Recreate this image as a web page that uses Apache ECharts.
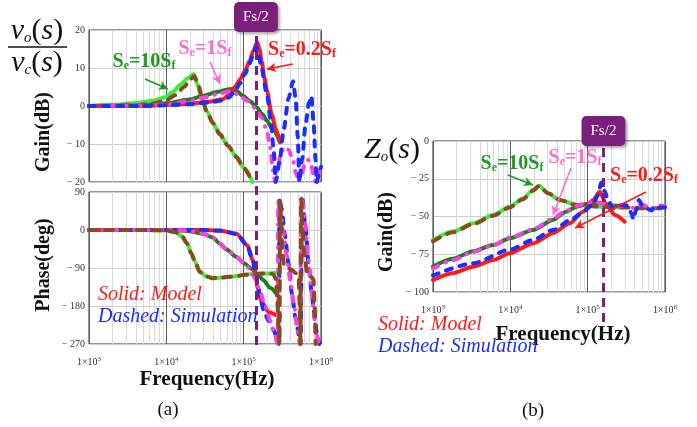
<!DOCTYPE html>
<html>
<head>
<meta charset="utf-8">
<script src="https://cdn.jsdelivr.net/npm/echarts@6/dist/echarts.min.js"></script>
<style>
  html, body { margin: 0; padding: 0; background: #fff; }
  #chart { width: 697px; height: 427px; }
</style>
</head>
<body>
<div id="chart"></div>
<script>
// ---- data: [frequency (Hz), value] ----
const gainModel10 = [[1e3,0],[2e3,0.3],[4e3,0.8],[6.5e3,1.3],[9.6e3,2.3],[1.2e4,3.6],[1.5e4,5.5],[1.9e4,7.3],[2.25e4,8.4],[2.5e4,6],[2.8e4,2.7],[3.3e4,-1.2],[4e4,-4.5],[4.9e4,-7.4],[6.3e4,-10.5],[8.1e4,-13.4],[1e5,-16.3],[1.3e5,-20]];
const gainSim10 = [[1e3,0],[2e3,0],[4e3,0.2],[6.5e3,0.6],[9.6e3,1.3],[1.3e4,2.8],[1.7e4,5],[2e4,6.8],[2.3e4,7.9],[2.6e4,5.5],[2.9e4,2],[3.3e4,-1.2],[4e4,-4.5],[4.9e4,-7.4],[6.3e4,-10.5],[8.1e4,-13.4],[1e5,-16.3],[1.3e5,-20]];
const gainModel1 = [[1e3,0],[3e3,0.1],[6e3,0.3],[1e4,0.7],[2e4,1.7],[3e4,2.7],[4.5e4,3.7],[6.7e4,4.5],[8e4,4],[9.8e4,2.7],[1.2e5,1.3],[1.47e5,-0.3],[1.75e5,-2.2],[2e5,-3.9],[2.4e5,-6.3],[2.95e5,-9.5]];
const gainSim1 = [[1e3,0],[5e3,0.1],[1e4,0.4],[2e4,1.3],[3e4,2.2],[4.5e4,3.1],[6.5e4,3.8],[7.5e4,3.5],[9e4,2.6],[1.1e5,1.4],[1.4e5,-0.5],[1.7e5,-3],[2e5,-6.5],[2.2e5,-11],[2.4e5,-17],[2.55e5,-20],[2.75e5,-16],[3.05e5,-12],[3.4e5,-10.8],[3.8e5,-11.5],[4.3e5,-14],[4.8e5,-18],[5.1e5,-20],[5.6e5,-18],[6.2e5,-15],[6.8e5,-14.2],[7.4e5,-15],[8e5,-18],[8.5e5,-20],[9.2e5,-18],[1e6,-15.5]];
const gainModel02 = [[1e3,0],[5e3,0],[1e4,0.3],[2e4,0.6],[3.5e4,1.1],[5.4e4,1.8],[6.5e4,3],[7.7e4,5],[9e4,7],[1.04e5,9.2],[1.2e5,12],[1.33e5,14.5],[1.5e5,16.8],[1.6e5,15],[1.71e5,11.8],[1.85e5,7.5],[2e5,4],[2.3e5,-2.1],[2.6e5,-6],[2.95e5,-9.5]];
const gainSim02 = [[1e3,0],[5e3,0],[1e4,0.2],[2e4,0.5],[3.5e4,0.9],[5.4e4,1.5],[6.5e4,2.3],[7.7e4,4],[9e4,6],[1.04e5,8.4],[1.2e5,11.3],[1.35e5,14],[1.45e5,15.6],[1.55e5,14],[1.7e5,10],[2e5,3],[2.25e5,-4],[2.45e5,-12],[2.6e5,-20],[2.9e5,-15],[3.3e5,-6],[3.8e5,2],[4.35e5,6.5],[4.7e5,2],[5e5,-8],[5.25e5,-20],[5.7e5,-14],[6.3e5,-5],[7e5,1],[7.5e5,2.6],[8e5,-4],[8.5e5,-14],[8.8e5,-20],[9.4e5,-18],[1e6,-16]];

const phaseModel10 = [[1e3,0],[5e3,0],[1e4,-1],[1.3e4,-5],[1.6e4,-15],[1.85e4,-32],[2.1e4,-55],[2.35e4,-75],[2.7e4,-99],[3.3e4,-110],[4e4,-114],[5e4,-113],[6.5e4,-111],[8e4,-109],[1.05e5,-106],[1.35e5,-104],[1.8e5,-103],[2.9e5,-101]];
const phaseSim10 = [[1e3,0],[5e3,0],[1e4,-1],[1.3e4,-5],[1.6e4,-15],[1.85e4,-32],[2.1e4,-55],[2.35e4,-75],[2.7e4,-99],[3.3e4,-110],[4e4,-114],[5e4,-113],[6.5e4,-111],[8e4,-109],[1.05e5,-106],[1.35e5,-104],[1.8e5,-103],[2.4e5,-104],[2.6e5,-115],[2.72e5,-160],[2.83e5,-230],[2.9e5,-270],[2.95e5,70],[3.05e5,25],[3.15e5,-40],[3.3e5,-80],[3.6e5,-90],[4.1e5,-93],[4.7e5,-102],[5.15e5,-112],[5.3e5,-180],[5.4e5,-270],[5.55e5,72],[5.75e5,10],[6.1e5,-60],[6.6e5,-100],[7.3e5,-108],[8e5,-118],[8.3e5,-180],[8.5e5,-270]];
const phaseModel1 = [[1e3,0],[1e4,0],[1.5e4,-1],[2e4,-3],[3e4,-9],[4e4,-18],[4.9e4,-32],[6e4,-46],[8.1e4,-64],[1e5,-78],[1.27e5,-92],[1.5e5,-104],[1.81e5,-119],[2.2e5,-137],[2.8e5,-157]];
const phaseSim1 = [[1e3,0],[1e4,0],[1.5e4,0],[2e4,-2],[3e4,-9],[4e4,-18],[4.9e4,-32],[6e4,-46],[8.1e4,-64],[1e5,-77],[1.21e5,-92],[1.4e5,-115],[1.6e5,-142],[1.9e5,-181],[2.2e5,-215],[2.5e5,-245],[2.75e5,-270],[2.8e5,70],[3e5,40],[3.3e5,-10],[3.6e5,-60],[4e5,-120],[4.5e5,-180],[4.9e5,-230],[5.35e5,-270],[5.6e5,80],[6.2e5,20],[6.8e5,-60],[7.4e5,-130],[8e5,-190],[8.6e5,-240],[9.3e5,-270]];
const phaseModel02 = [[1e3,0],[3e4,0],[4.9e4,-1],[8.1e4,-9],[1.11e5,-36],[1.31e5,-71],[1.44e5,-103],[1.5e5,-135],[1.71e5,-170],[2.09e5,-194],[2.7e5,-202],[2.95e5,-204]];
const phaseSim02 = [[1e3,0],[3e4,0],[5e4,-2],[8.1e4,-9],[1.11e5,-36],[1.31e5,-71],[1.44e5,-103],[1.52e5,-130],[1.65e5,-165],[1.85e5,-195],[2.1e5,-215],[2.4e5,-235],[2.7e5,-255],[2.85e5,-270],[2.9e5,75],[3.1e5,50],[3.4e5,-10],[3.8e5,-80],[4.2e5,-150],[4.7e5,-210],[5.2e5,-250],[5.45e5,-270],[5.7e5,80],[6.3e5,10],[6.9e5,-80],[7.6e5,-150],[8.3e5,-210],[9e5,-255],[9.5e5,-270]];

const zoModel10 = [[1e3,-65.6],[1.8e3,-60],[3.3e3,-54.5],[6e3,-49],[9.8e3,-43.5],[1.46e4,-38],[1.96e4,-32.5],[2.35e4,-29.6],[3.08e4,-34.6],[4.34e4,-39],[7.2e4,-42.4],[1.44e5,-43.5],[2.9e5,-44]];
const zoSim10 = [[1e3,-66.5],[1.8e3,-60.5],[3.3e3,-55],[6e3,-49.5],[9.8e3,-44],[1.46e4,-38.5],[1.96e4,-33],[2.35e4,-29.8],[3.08e4,-34.6],[4.34e4,-39],[7.2e4,-42.4],[1.44e5,-43.5],[2.9e5,-44],[5e5,-44.5],[1e6,-44.6]];
const zoModel1 = [[1e3,-83.2],[1.8e3,-78],[3.3e3,-73],[6e3,-68.9],[9.8e3,-64.4],[1.96e4,-59],[3.55e4,-52.3],[5.28e4,-46.8],[7.2e4,-43.5],[9.6e4,-41.7],[1.44e5,-41],[2e5,-42.5],[2.87e5,-43.5]];
const zoSim1 = [[1e3,-84.5],[1.8e3,-79],[3.3e3,-73.5],[6e3,-69],[9.8e3,-64],[1.96e4,-58.5],[3.55e4,-51.5],[5.28e4,-46],[7.2e4,-43],[9.6e4,-41],[1.2e5,-40],[1.44e5,-41],[2e5,-42.5],[2.6e5,-43.5],[3.2e5,-42],[4e5,-44.5],[5e5,-42],[6e5,-43.5],[7e5,-45],[8e5,-42.5],[1e6,-43.5]];
const zoModel02 = [[1e3,-92],[1.8e3,-87.6],[3.3e3,-83.2],[6e3,-78.8],[9.8e3,-74.4],[1.96e4,-67.8],[3.55e4,-61.1],[5.87e4,-54.5],[8.7e4,-46.8],[1.17e5,-39],[1.44e5,-33.6],[1.75e5,-42.4],[2.25e5,-49],[3e5,-53.4]];
const zoSim02 = [[1e3,-89],[3.3e3,-81],[9.8e3,-72],[1.96e4,-65.6],[3.55e4,-58.9],[6.5e4,-51.2],[8.7e4,-46.8],[1.17e5,-42.4],[1.35e5,-36],[1.5e5,-27.5],[1.65e5,-33],[1.85e5,-40],[2.15e5,-44.6],[2.7e5,-42.5],[3.3e5,-43],[3.7e5,-48],[3.9e5,-52],[4.2e5,-46],[4.6e5,-39],[5.1e5,-43],[6e5,-45],[6.7e5,-46],[7.5e5,-43],[8.5e5,-44],[1e6,-44]];

// Fs/2 marker positions and minor grid multipliers
const fsHalfA = 1.44e5;
const fsHalfB = 1.6e5;
const decades = [1e3, 1e4, 1e5];
const minorMult = [2, 3, 4, 5, 6, 7, 8, 9];

const SERIF = '"Liberation Serif", "DejaVu Serif", serif';
const C = {
  red: '#ff1a1a', blue: '#1a2eff', lime: '#3cee3c', brown: '#8b4a1c',
  dkgreen: '#1e7d24', magenta: '#ff3ee0', purple: '#7b1f7d',
  txtGreen: '#1f9a22', txtPink: '#ff6ccf'
};
const DASH = [6, 8];
const DASH_BROWN = [8, 8];
const DASH_DOT = [6, 8, 0.5, 8];

const chart = echarts.init(document.getElementById('chart'));

const minorFreqs = [];
decades.forEach((d) => minorMult.forEach((m) => minorFreqs.push(d * m)));

const minus = (v) => (v < 0 ? '\u2212 ' + Math.abs(v) : String(v));
const expLabel = (v) => '1\u00d710{s|' + Math.round(Math.log10(v)) + '}';

function xAxisCfg(grid, showLabels) {
  return {
    type: 'log', logBase: 10, min: 1e3, max: 1e6, gridIndex: grid,
    axisLine: { show: false }, axisTick: { show: false },
    splitLine: { show: true, lineStyle: { color: '#5a5a5a', width: 1 } },
    axisLabel: {
      show: showLabels, formatter: expLabel, margin: 12,
      fontFamily: SERIF, fontSize: 10, color: '#333',
      rich: { s: { fontSize: 7, fontFamily: SERIF, verticalAlign: 'top', padding: [0, 0, 6, 0], color: '#333' } }
    }
  };
}
function yAxisCfg(grid, min, max, interval) {
  return {
    type: 'value', gridIndex: grid, min, max, interval,
    axisLine: { show: false }, axisTick: { show: false },
    splitLine: { show: true, lineStyle: { color: '#cfcfcf' } },
    axisLabel: { formatter: minus, margin: 4, fontFamily: SERIF, fontSize: 10, color: '#333' }
  };
}
// hidden axes for the Fs/2 overlays
function hiddenX(grid) {
  return { type: 'log', logBase: 10, min: 1e3, max: 1e6, gridIndex: grid, show: false, splitLine: { show: false } };
}
function hiddenY(grid) {
  return { type: 'value', min: 0, max: 1, gridIndex: grid, show: false, splitLine: { show: false } };
}

function minorGrid(idx, ymin, ymax) {
  return {
    type: 'custom', xAxisIndex: idx, yAxisIndex: idx, silent: true, z: 1,
    data: minorFreqs.map((f) => [f, ymin]),
    encode: { x: 0, y: 1 },
    renderItem: (params, api) => {
      const p1 = api.coord([api.value(0), ymin]);
      const p2 = api.coord([api.value(0), ymax]);
      const x = Math.round(p1[0]) + 0.5;
      return { type: 'line', shape: { x1: x, y1: p1[1], x2: x, y2: p2[1] }, style: { stroke: '#dadada', lineWidth: 1 } };
    }
  };
}

function curve(data, idx, color, dash, z) {
  return {
    type: 'line', xAxisIndex: idx, yAxisIndex: idx, data, symbol: 'none',
    smooth: 0.25, smoothMonotone: 'x', silent: true, z: z,
    lineStyle: { color, width: 4, type: dash || 'solid', cap: 'round', join: 'round' }
  };
}

function fsLine(idx, x) {
  return {
    type: 'line', xAxisIndex: idx, yAxisIndex: idx, data: [], silent: true, z: 10,
    markLine: {
      silent: true, symbol: ['none', 'none'], animation: false,
      lineStyle: { color: C.purple, width: 3, type: [9, 6] },
      label: {
        show: true, position: 'end', distance: 0, formatter: 'Fs/2',
        color: '#fff', fontFamily: SERIF, fontSize: 15,
        backgroundColor: C.purple, padding: [8, 9, 7, 9], borderRadius: 5,
        shadowColor: 'rgba(0,0,0,0.35)', shadowBlur: 3, shadowOffsetX: 2, shadowOffsetY: 2
      },
      data: [[{ coord: [x, 0] }, { coord: [x, 1] }]]
    }
  };
}

function arrows(idx, items) {
  return {
    type: 'line', xAxisIndex: idx, yAxisIndex: idx, data: [], silent: true, z: 11,
    markLine: {
      silent: true, symbol: ['none', 'arrow'], symbolSize: [7, 9], animation: false, label: { show: false },
      data: items.map((a) => [
        { coord: a.from, lineStyle: { color: a.color, width: 1.6, type: 'solid' } },
        { coord: a.to }
      ])
    }
  };
}

const option = {
  animation: false,
  backgroundColor: '#fff',
  grid: [
    { left: 89, top: 30, width: 232, height: 152, show: true, borderColor: '#333', borderWidth: 1 },
    { left: 89, top: 192, width: 232, height: 152, show: true, borderColor: '#333', borderWidth: 1 },
    { left: 433, top: 141, width: 232, height: 151, show: true, borderColor: '#333', borderWidth: 1 },
    { left: 89, top: 32, width: 232, height: 313, show: false },
    { left: 433, top: 146, width: 232, height: 176, show: false }
  ],
  xAxis: [xAxisCfg(0, false), xAxisCfg(1, true), xAxisCfg(2, true), hiddenX(3), hiddenX(4)],
  yAxis: [yAxisCfg(0, -20, 20, 10), yAxisCfg(1, -270, 90, 90), yAxisCfg(2, -100, 0, 25), hiddenY(3), hiddenY(4)],
  series: [
    minorGrid(0, -20, 20), minorGrid(1, -270, 90), minorGrid(2, -100, 0),

    curve(gainModel10, 0, C.lime, null, 3),
    curve(gainModel1, 0, C.dkgreen, null, 3),
    curve(gainModel02, 0, C.red, null, 3),
    curve(gainSim10, 0, C.brown, DASH_BROWN, 4),
    curve(gainSim1, 0, C.magenta, DASH_DOT, 4),
    curve(gainSim02, 0, C.blue, DASH, 4),

    curve(phaseModel10, 1, C.lime, null, 3),
    curve(phaseModel1, 1, C.dkgreen, null, 3),
    curve(phaseModel02, 1, C.red, null, 3),
    curve(phaseSim02, 1, C.blue, DASH, 4),
    curve(phaseSim1, 1, C.magenta, DASH_DOT, 4),
    curve(phaseSim10, 1, C.brown, DASH_BROWN, 5),

    curve(zoModel10, 2, C.lime, null, 3),
    curve(zoModel1, 2, C.dkgreen, null, 3),
    curve(zoModel02, 2, C.red, null, 3),
    curve(zoSim10, 2, C.brown, DASH_BROWN, 4),
    curve(zoSim1, 2, C.magenta, DASH_DOT, 4),
    curve(zoSim02, 2, C.blue, DASH, 4),

    fsLine(3, fsHalfA),
    fsLine(4, fsHalfB),

    arrows(0, [
      { from: [5.3e3, 7.1], to: [1.05e4, 4.5], color: C.txtGreen },
      { from: [3.67e4, 11.6], to: [4.94e4, 5.8], color: C.txtPink },
      { from: [4.34e5, 11.05], to: [2e5, 9.7], color: C.red }
    ]),
    arrows(2, [
      { from: [9.3e3, -22.5], to: [1.96e4, -29.1], color: C.txtGreen },
      { from: [6.1e4, -17.9], to: [3.56e4, -49], color: C.txtPink },
      { from: [5.68e5, -33.8], to: [6.86e4, -57.6], color: C.red }
    ])
  ],
  graphic: [
    // transfer function labels
    { type: 'text', x: 37, y: 31, style: { text: '{v|v}{o|o}{p|(}{v|s}{p|)}', align: 'center', verticalAlign: 'middle',
      rich: { v: { font: 'italic 30px ' + SERIF, fill: '#111' }, p: { font: '30px ' + SERIF, fill: '#111' }, o: { font: 'italic 15px ' + SERIF, verticalAlign: 'bottom', fill: '#111' } } } },
    { type: 'line', shape: { x1: 8, y1: 47, x2: 67, y2: 47 }, style: { stroke: '#111', lineWidth: 1.5 } },
    { type: 'text', x: 37, y: 63, style: { text: '{v|v}{o|c}{p|(}{v|s}{p|)}', align: 'center', verticalAlign: 'middle',
      rich: { v: { font: 'italic 30px ' + SERIF, fill: '#111' }, p: { font: '30px ' + SERIF, fill: '#111' }, o: { font: 'italic 15px ' + SERIF, verticalAlign: 'bottom', fill: '#111' } } } },
    { type: 'text', x: 392, y: 150, style: { text: '{v|Z}{o|o}{p|(}{v|s}{p|)}', align: 'center', verticalAlign: 'middle',
      rich: { v: { font: 'italic 30px ' + SERIF, fill: '#111' }, p: { font: '30px ' + SERIF, fill: '#111' }, o: { font: 'italic 15px ' + SERIF, verticalAlign: 'bottom', fill: '#111' } } } },

    // axis titles
    { type: 'text', x: 44, y: 132, rotation: Math.PI / 2, style: { text: 'Gain(dB)', font: 'bold 20px ' + SERIF, fill: '#111', align: 'center', verticalAlign: 'middle' } },
    { type: 'text', x: 44, y: 265, rotation: Math.PI / 2, style: { text: 'Phase(deg)', font: 'bold 20px ' + SERIF, fill: '#111', align: 'center', verticalAlign: 'middle' } },
    { type: 'text', x: 387, y: 232, rotation: Math.PI / 2, style: { text: 'Gain(dB)', font: 'bold 20px ' + SERIF, fill: '#111', align: 'center', verticalAlign: 'middle' } },
    { type: 'text', x: 207, y: 380, style: { text: 'Frequency(Hz)', font: 'bold 21px ' + SERIF, fill: '#111', align: 'center', verticalAlign: 'middle' } },
    { type: 'text', x: 563, y: 335, style: { text: 'Frequency(Hz)', font: 'bold 21px ' + SERIF, fill: '#111', align: 'center', verticalAlign: 'middle' } },
    { type: 'text', x: 168, y: 410, style: { text: '(a)', font: '19px ' + SERIF, fill: '#111', align: 'center', verticalAlign: 'middle' } },
    { type: 'text', x: 533, y: 411, style: { text: '(b)', font: '19px ' + SERIF, fill: '#111', align: 'center', verticalAlign: 'middle' } },

    // model / simulation notes
    { type: 'text', x: 98, y: 295, z: 20, style: { text: 'Solid: Model', font: 'italic 20px ' + SERIF, fill: C.red, verticalAlign: 'middle' } },
    { type: 'text', x: 98, y: 317, z: 20, style: { text: 'Dashed: Simulation', font: 'italic 20px ' + SERIF, fill: C.blue, verticalAlign: 'middle' } },
    { type: 'text', x: 378, y: 325, z: 20, style: { text: 'Solid: Model', font: 'italic 20px ' + SERIF, fill: C.red, verticalAlign: 'middle' } },
    { type: 'text', x: 378, y: 347, z: 20, style: { text: 'Dashed: Simulation', font: 'italic 20px ' + SERIF, fill: C.blue, verticalAlign: 'middle' } },

    // Se labels
    ...[
      [144, 62, '10', C.txtGreen], [205, 49, '1', C.txtPink], [302, 50, '0.2', C.red],
      [512, 164, '10', C.txtGreen], [575, 158, '1', C.txtPink], [644, 176, '0.2', C.red]
    ].map(([x, y, k, col]) => ({
      type: 'text', x, y, z: 20,
      style: {
        text: '{a|S}{b|e}{a|=' + k + 'S}{b|f}', align: 'center', verticalAlign: 'middle',
        rich: { a: { font: 'bold 20px ' + SERIF, fill: col }, b: { font: 'bold 12px ' + SERIF, fill: col, verticalAlign: 'bottom' } }
      }
    }))
  ]
};

chart.setOption(option);
window.addEventListener('resize', () => chart.resize());
</script>
</body>
</html>
